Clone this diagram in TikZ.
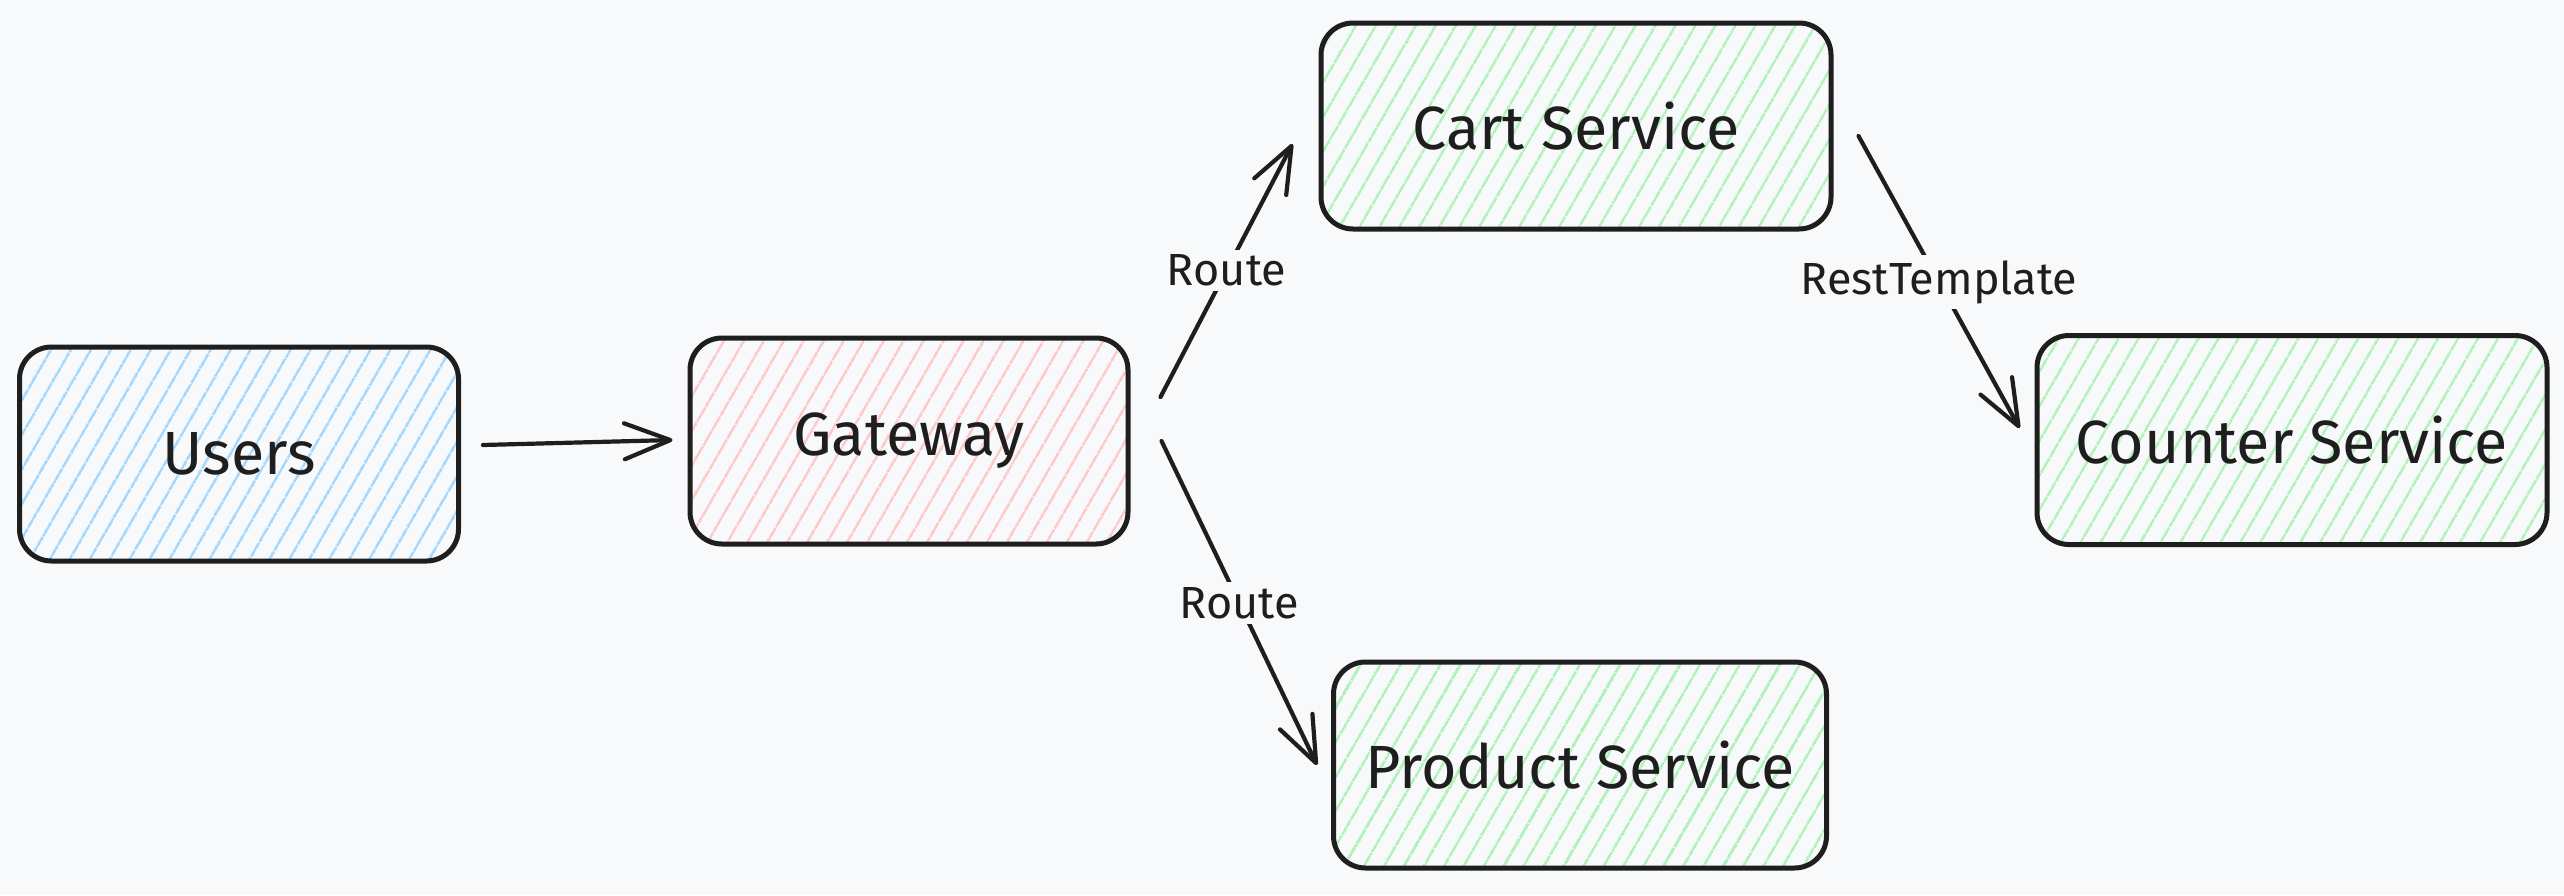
\documentclass[tikz,border=0pt]{standalone}
\usepackage{fontspec}
\setmainfont{Fira Sans}
\usetikzlibrary{arrows.meta,patterns.meta,calc}
\definecolor{bg}{HTML}{F8F9FA}
\definecolor{ink}{HTML}{1E1E1E}
\definecolor{hblue}{HTML}{A5D8FF}
\definecolor{hred}{HTML}{FFC9C9}
\definecolor{hgreen}{HTML}{B2F2BB}
\tikzset{
  box/.style={draw=ink, line width=5pt, rounded corners=32pt, inner sep=0pt,
    text=ink, font=\fontsize{61}{70}\selectfont,
    pattern={Lines[angle=60,distance=17pt,line width=2.8pt]}},
  conn/.style={draw=ink, line width=4.2pt, line cap=round,
    -{Straight Barb[length=46pt,width=36pt,round]}},
  lab/.style={fill=bg, text=ink, font=\fontsize{45}{50}\selectfont, inner sep=5pt}
}
\begin{document}
\begin{tikzpicture}[x=1pt,y=1pt]
\fill[bg] (0,0) rectangle (2564,-895);
\useasboundingbox (0,0) rectangle (2564,-895);
\node[box, pattern color=hblue, minimum width=439pt, minimum height=214pt] (U) at (239,-454) {Users};
\node[box, pattern color=hred, minimum width=438pt, minimum height=206pt] (G) at (909,-441) {Gateway};
\node[box, pattern color=hgreen, minimum width=510pt, minimum height=206pt] (C) at (1576,-126) {Cart Service};
\node[box, pattern color=hgreen, minimum width=510pt, minimum height=209pt] (K) at (2292,-440) {Counter Service};
\node[box, pattern color=hgreen, minimum width=493pt, minimum height=206pt] (P) at (1580,-765) {Product Service};
\draw[conn] ($(U.east)+(23,9)$) -- ($(G.west)+(-15,1)$);
\draw[conn] ($(G.east)+(30,44)$) -- node[lab] {Route} ($(C.west)+(-26,-18)$);
\draw[conn] ($(G.east)+(31,0)$) -- node[lab] {Route} ($(P.west)+(-14,0)$);
\draw[conn] ($(C.east)+(25,-10)$) -- node[lab] {RestTemplate} ($(K.west)+(-15,12)$);
\end{tikzpicture}
\end{document}
